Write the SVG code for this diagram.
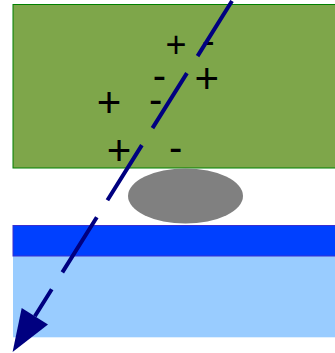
<svg xmlns="http://www.w3.org/2000/svg" width="335" height="353" viewBox="0 0 335 353">
<style>
.sign{font-family:"Liberation Sans",Arial,sans-serif;fill:#000;text-anchor:middle}
.conn{stroke:#000080;stroke-width:4;fill:none;stroke-dasharray:65 20}
</style>
<defs>
<marker id="ah" markerUnits="userSpaceOnUse" markerWidth="44" markerHeight="32" refX="0" refY="15.5" orient="auto" overflow="visible">
<path d="M0,0 L42,15.5 L0,31 z" fill="#000080"/>
</marker>
</defs>
<g id="green-layer">
<rect x="13" y="4.5" width="325" height="163.5" fill="#7ea64a" stroke="#008000" stroke-width="1"/>
</g>
<g id="particle">
<ellipse cx="185.5" cy="196" rx="57.5" ry="27.5" fill="#808080"/>
</g>
<g id="light-blue-layer">
<rect x="13" y="256" width="325" height="81.3" fill="#99ccff"/>
</g>
<g id="blue-layer">
<rect x="13" y="225.5" width="325" height="30.5" fill="#0040ff" stroke="#3a2fd0" stroke-width="1"/>
</g>
<g id="charges">
<text class="sign" x="176" y="56.5" font-size="36">+</text>
<text class="sign" x="208.3" y="53.7" font-size="38">-</text>
<text class="sign" x="159.3" y="89" font-size="40">-</text>
<text class="sign" x="206.7" y="92.5" font-size="42">+</text>
<text class="sign" x="109" y="116.5" font-size="42">+</text>
<text class="sign" x="155.7" y="113" font-size="40">-</text>
<text class="sign" x="119" y="164.8" font-size="42">+</text>
<text class="sign" x="175.7" y="161" font-size="40">-</text>
</g>
<g id="connectors">
<line class="conn" x1="232" y1="1" x2="34.85" y2="316.3" marker-end="url(#ah)"/>
</g>
</svg>
